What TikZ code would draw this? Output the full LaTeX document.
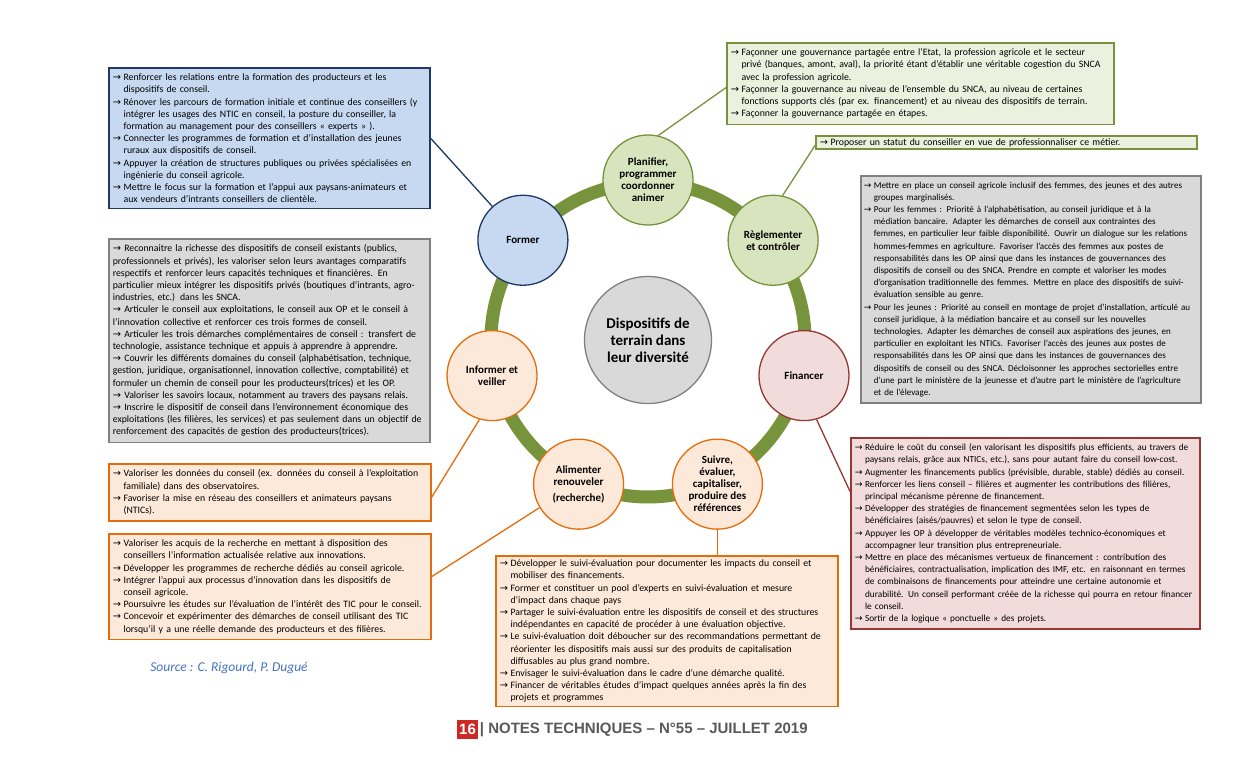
\documentclass[tikz,border=0pt]{standalone}
\usepackage{fontspec}
\setmainfont{Carlito}
\newfontfamily\arrowfont{DejaVu Sans}
\newfontfamily\footfont{Liberation Sans}
\usetikzlibrary{positioning,backgrounds}
\definecolor{RingGreen}{RGB}{119,147,60}
\definecolor{GreenFill}{RGB}{215,228,189}
\definecolor{GreenBoxFill}{RGB}{235,241,222}
\definecolor{BlueLine}{RGB}{31,56,100}
\definecolor{BlueFill}{RGB}{198,217,241}
\definecolor{OrangeLine}{RGB}{228,108,10}
\definecolor{OrangeFill}{RGB}{253,233,217}
\definecolor{RedLine}{RGB}{149,55,53}
\definecolor{RedFill}{RGB}{242,220,219}
\definecolor{GreyLine}{RGB}{128,128,128}
\definecolor{GreyFill}{RGB}{217,217,217}
\definecolor{SourceBlue}{RGB}{68,114,196}
\definecolor{FootGrey}{RGB}{89,89,89}
\definecolor{FootRed}{RGB}{204,41,38}
\newcommand{\arw}{\makebox[1.1em][l]{\arrowfont →}}
\newcommand{\ind}{\hspace*{1.1em}}

\begin{document}
\begin{tikzpicture}[
  x=1pt, y=-1pt,
  sat/.style={
    circle, line width=1.3pt, minimum size=90pt, inner sep=0pt,
    align=center, font=\fontsize{11}{12}\selectfont\bfseries
  },
  greensat/.style={sat, draw=RingGreen, fill=GreenFill},
  bluesat/.style={sat, draw=BlueLine, fill=BlueFill},
  orangesat/.style={sat, draw=OrangeLine, fill=OrangeFill},
  redsat/.style={sat, draw=RedLine, fill=RedFill},
  hub/.style={
    circle, draw=GreyLine, fill=GreyFill, line width=1.3pt,
    minimum size=127pt, inner sep=0pt, align=center,
    font=\fontsize{15}{17}\selectfont\bfseries
  },
  txtbox/.style={
    rectangle, line width=1.6pt, anchor=north west, align=left,
    inner xsep=4pt, inner ysep=6pt, font=\fontsize{9.8}{12.2}\selectfont
  },
  tight/.style={font=\fontsize{9.3}{12.2}\selectfont},
  tighter/.style={font=\fontsize{9.05}{12.2}\selectfont},
  greenbox/.style={txtbox, draw=RingGreen, fill=GreenBoxFill},
  bluebox/.style={txtbox, draw=BlueLine, fill=BlueFill},
  orangebox/.style={txtbox, draw=OrangeLine, fill=OrangeFill},
  redbox/.style={txtbox, draw=RedLine, fill=RedFill},
  greybox/.style={txtbox, draw=GreyLine, fill=GreyFill},
  ring/.style={draw=RingGreen, line width=13pt},
  link/.style={line width=1.3pt}
]
\useasboundingbox[fill=white] (0,0) rectangle (1260,778);

% ---- Ring and circles ----
\coordinate (c) at (648,340);
\draw[ring] (c) circle[radius=157pt];

\node[hub] (centre) at (c) {Dispositifs de\\terrain dans\\leur diversité};

\node[greensat]  (plan)    at ([shift={(90:160pt)}]c)     {Planifier,\\programmer\\coordonner\\animer};
\node[bluesat]   (former)  at ([shift={(141.43:160pt)}]c) {Former};
\node[orangesat] (inform)  at ([shift={(192.86:160pt)}]c) {Informer et\\veiller};
\node[orangesat] (alim)    at ([shift={(244.29:160pt)}]c) {Alimenter\\renouveler\\[4pt](recherche)};
\node[orangesat] (suivi)   at ([shift={(295.71:160pt)}]c) {Suivre,\\évaluer,\\capitaliser,\\produire des\\références};
\node[redsat]    (finance) at ([shift={(347.14:160pt)}]c) {Financer};
\node[greensat]  (regl)    at ([shift={(38.57:160pt)}]c)  {Règlementer\\et contrôler};

% ---- Text boxes ----
\node[bluebox, text width=313pt] (formbox) at (108,67) {%
\arw Renforcer les relations entre la formation des producteurs et les\\
\ind dispositifs de conseil.\\
\arw Rénover les parcours de formation initiale et continue des conseillers (y\\
\ind intégrer les usages des NTIC en conseil, la posture du conseiller, la\\
\ind formation au management pour des conseillers « experts » ).\\
\arw Connecter les programmes de formation et d’installation des jeunes\\
\ind ruraux aux dispositifs de conseil.\\
\arw Appuyer la création de structures publiques ou privées spécialisées en\\
\ind ingénierie du conseil agricole.\\
\arw Mettre le focus sur la formation et l’appui aux paysans-animateurs et\\
\ind aux vendeurs d’intrants conseillers de clientèle.};

\node[greenbox, text width=379pt] (planbox) at (726,42) {%
\arw Façonner une gouvernance partagée entre l’Etat, la profession agricole et le secteur\\
\ind privé (banques, amont, aval), la priorité étant d’établir une véritable cogestion du SNCA\\
\ind avec la profession agricole.\\
\arw Façonner la gouvernance au niveau de l’ensemble du SNCA, au niveau de certaines\\
\ind fonctions supports clés (par ex. financement) et au niveau des dispositifs de terrain.\\
\arw Façonner la gouvernance partagée en étapes.};

\node[greenbox, text width=373pt, inner ysep=2.5pt] (reglbox) at (815,135) {%
\arw Proposer un statut du conseiller en vue de professionnaliser ce métier.};

\node[greybox, tighter, text width=334pt, inner xsep=3pt] (rightbox) at (860,175) {%
\arw Mettre en place un conseil agricole inclusif des femmes, des jeunes et des autres\\
\ind groupes marginalisés.\\
\arw Pour les femmes : Priorité à l’alphabétisation, au conseil juridique et à la\\
\ind médiation bancaire. Adapter les démarches de conseil aux contraintes des\\
\ind femmes, en particulier leur faible disponibilité. Ouvrir un dialogue sur les relations\\
\ind hommes-femmes en agriculture. Favoriser l’accès des femmes aux postes de\\
\ind responsabilités dans les OP ainsi que dans les instances de gouvernances des\\
\ind dispositifs de conseil ou des SNCA. Prendre en compte et valoriser les modes\\
\ind d’organisation traditionnelle des femmes. Mettre en place des dispositifs de suivi-\\
\ind évaluation sensible au genre.\\
\arw Pour les jeunes : Priorité au conseil en montage de projet d’installation, articulé au\\
\ind conseil juridique, à la médiation bancaire et au conseil sur les nouvelles\\
\ind technologies. Adapter les démarches de conseil aux aspirations des jeunes, en\\
\ind particulier en exploitant les NTICs. Favoriser l’accès des jeunes aux postes de\\
\ind responsabilités dans les OP ainsi que dans les instances de gouvernances des\\
\ind dispositifs de conseil ou des SNCA. Décloisonner les approches sectorielles entre\\
\ind d’une part le ministère de la jeunesse et d’autre part le ministère de l’agriculture\\
\ind et de l’élevage.};

\node[greybox, text width=313pt] (leftbox) at (108,238) {%
{\arrowfont →} Reconnaitre la richesse des dispositifs de conseil existants (publics,\\
professionnels et privés), les valoriser selon leurs avantages comparatifs\\
respectifs et renforcer leurs capacités techniques et financières. En\\
particulier mieux intégrer les dispositifs privés (boutiques d’intrants, agro-\\
industries, etc.) dans les SNCA.\\
{\arrowfont →} Articuler le conseil aux exploitations, le conseil aux OP et le conseil à\\
l’innovation collective et renforcer ces trois formes de conseil.\\
{\arrowfont →} Articuler les trois démarches complémentaires de conseil : transfert de\\
technologie, assistance technique et appuis à apprendre à apprendre.\\
{\arrowfont →} Couvrir les différents domaines du conseil (alphabétisation, technique,\\
gestion, juridique, organisationnel, innovation collective, comptabilité) et\\
formuler un chemin de conseil pour les producteurs(trices) et les OP.\\
{\arrowfont →} Valoriser les savoirs locaux, notamment au travers des paysans relais.\\
{\arrowfont →} Inscrire le dispositif de conseil dans l’environnement économique des\\
exploitations (les filières, les services) et pas seulement dans un objectif de\\
renforcement des capacités de gestion des producteurs(trices).};

\node[redbox, tight, text width=341pt] (finbox) at (850,437) {%
\arw Réduire le coût du conseil (en valorisant les dispositifs plus efficients, au travers de\\
\ind paysans relais, grâce aux NTICs, etc.), sans pour autant faire du conseil low-cost.\\
\arw Augmenter les financements publics (prévisible, durable, stable) dédiés au conseil.\\
\arw Renforcer les liens conseil – filières et augmenter les contributions des filières,\\
\ind principal mécanisme pérenne de financement.\\
\arw Développer des stratégies de financement segmentées selon les types de\\
\ind bénéficiaires (aisés/pauvres) et selon le type de conseil.\\
\arw Appuyer les OP à développer de véritables modèles technico-économiques et\\
\ind accompagner leur transition plus entrepreneuriale.\\
\arw Mettre en place des mécanismes vertueux de financement : contribution des\\
\ind bénéficiaires, contractualisation, implication des IMF, etc. en raisonnant en termes\\
\ind de combinaisons de financements pour atteindre une certaine autonomie et\\
\ind durabilité. Un conseil performant créée de la richesse qui pourra en retour financer\\
\ind le conseil.\\
\arw Sortir de la logique « ponctuelle » des projets.};

\node[orangebox, text width=314pt] (infbox) at (108,463) {%
\arw Valoriser les données du conseil (ex. données du conseil à l’exploitation\\
\ind familiale) dans des observatoires.\\
\arw Favoriser la mise en réseau des conseillers et animateurs paysans\\
\ind (NTICs).};

\node[orangebox, text width=314pt] (alimbox) at (108,533) {%
\arw Valoriser les acquis de la recherche en mettant à disposition des\\
\ind conseillers l’information actualisée relative aux innovations.\\
\arw Développer les programmes de recherche dédiés au conseil agricole.\\
\arw Intégrer l’appui aux processus d’innovation dans les dispositifs de\\
\ind conseil agricole.\\
\arw Poursuivre les études sur l’évaluation de l’intérêt des TIC pour le conseil.\\
\arw Concevoir et expérimenter des démarches de conseil utilisant des TIC\\
\ind lorsqu’il y a une réelle demande des producteurs et des filières.};

\node[orangebox, text width=334pt, inner ysep=4pt] (suivbox) at (495,555) {%
\arw Développer le suivi-évaluation pour documenter les impacts du conseil et\\
\ind mobiliser des financements.\\
\arw Former et constituer un pool d’experts en suivi-évaluation et mesure\\
\ind d’impact dans chaque pays\\
\arw Partager le suivi-évaluation entre les dispositifs de conseil et des structures\\
\ind indépendantes en capacité de procéder à une évaluation objective.\\
\arw Le suivi-évaluation doit déboucher sur des recommandations permettant de\\
\ind réorienter les dispositifs mais aussi sur des produits de capitalisation\\
\ind diffusables au plus grand nombre.\\
\arw Envisager le suivi-évaluation dans le cadre d’une démarche qualité.\\
\arw Financer de véritables études d’impact quelques années après la fin des\\
\ind projets et programmes};

% ---- Links ----
\begin{scope}[on background layer]
\draw[link, draw=GreyLine] (centre.165) -- (centre.165 -| leftbox.east);
\draw[link, draw=GreyLine] (centre.15)  -- (centre.15 -| rightbox.west);
\end{scope}
\draw[link, draw=BlueLine]   (former)       -- (formbox.east);
\draw[link, draw=RingGreen]  (plan.77)      -- ([yshift=-4pt]planbox.west);
\draw[link, draw=RingGreen]  (regl.78)      -- ([yshift=-3pt]reglbox.west);
\draw[link, draw=RedLine]    (finance.-74)  -- ([yshift=42pt]finbox.west);
\draw[link, draw=OrangeLine] (inform.-106)  -- ([yshift=-5pt]infbox.east);
\draw[link, draw=OrangeLine] (alim.211)     -- ([yshift=10pt]alimbox.east);
\draw[link, draw=OrangeLine] (suivi)        -- (suivi |- suivbox.north);

% ---- Source and footer ----
\node[font=\fontsize{13.5}{15}\selectfont\itshape, text=SourceBlue] (source) at (229,668) {Source : C. Rigourd, P. Dugué};
\node[fill=FootRed, text=white, minimum width=21pt, minimum height=19pt, inner sep=0pt,
      font=\footfont\fontsize{15}{15}\selectfont\bfseries] (pnum) at (467.5,729.5) {16};
\node[right=1.5pt of pnum, inner sep=0pt, text=FootGrey,
      font=\footfont\fontsize{15}{15}\selectfont\bfseries] (foot) {| NOTES TECHNIQUES – N°55 – JUILLET 2019};

\end{tikzpicture}
\end{document}
